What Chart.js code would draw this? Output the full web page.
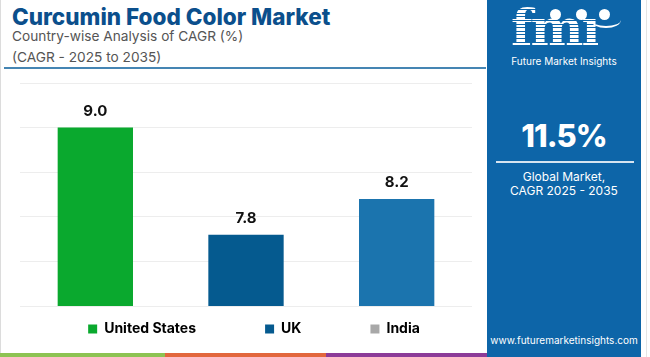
<!DOCTYPE html>
<html>
<head>
<meta charset="utf-8">
<script src="https://cdn.jsdelivr.net/npm/chart.js@4.4.1/dist/chart.umd.min.js"></script>
<style>
  html, body { margin: 0; padding: 0; background: #fff; }
  #page { position: relative; width: 650px; height: 357px; overflow: hidden; background: #fff; font-family: Inter, "Open Sans", sans-serif; }
  #leftborder { position: absolute; left: 0; top: 0; width: 1px; height: 353px; background: #dcdcdc; }
  #title { position: absolute; left: 12px; top: 3px; font-size: 22.5px; font-weight: 800; color: #0b4f8c; white-space: nowrap; }
  .sub { position: absolute; left: 12px; font-size: 13.7px; color: #555; white-space: nowrap; }
  #rule { position: absolute; left: 4px; top: 67px; width: 482px; height: 2px; background: #4585b3; }
  #chartbox { position: absolute; left: 0; top: 70px; width: 488px; height: 283px; }
  #strip { position: absolute; left: 0; top: 353px; width: 487px; height: 4px; }
  #strip div { position: absolute; top: 0; height: 4px; }
  #panel { position: absolute; left: 487px; top: 0; width: 154px; height: 357px; background: #0d65a8; color: #fff; text-align: center; }
  #logo { position: absolute; left: 22px; top: 0px; width: 110px; height: 50px; }
  #logotext { position: absolute; left: 2px; top: 3px; font-family: "DejaVu Serif", serif; font-weight: bold; font-size: 50px; line-height: 50px; letter-spacing: -2px;
     background: repeating-linear-gradient(to bottom, #fff 0px, #fff 2.6px, #0d65a8 2.6px, #0d65a8 3.6px); -webkit-background-clip: text; background-clip: text; color: transparent; }
  .dot { position: absolute; width: 11px; height: 11px; border-radius: 50%; background: #fff; top: 9px; }
  #smile { position: absolute; left: 82px; top: 12px; width: 30px; height: 14px; border-bottom: 2px solid #fff; border-radius: 0 0 50% 50%; }
  #fmitag { position: absolute; left: 0; top: 55px; width: 154px; font-size: 10px; color: #fff; }
  #big { position: absolute; left: 0; top: 116px; width: 154px; font-size: 31px; font-weight: 800; line-height: 40px; letter-spacing: -1px; }
  #prule { position: absolute; left: 9px; top: 161px; width: 138px; height: 2px; background: #d6e4f0; }
  #glob { position: absolute; left: 0; top: 170px; width: 154px; font-size: 12px; line-height: 14px; }
  #url { position: absolute; left: 0; top: 334px; width: 154px; font-size: 10px; }
  #rightedge { position: absolute; left: 646px; top: 0; width: 1px; height: 357px; background: #e4e4e4; }
</style>
</head>
<body>
<div id="page">
  <div id="leftborder"></div>
  <div id="title">Curcumin Food Color Market</div>
  <div class="sub" style="top:28px">Country-wise Analysis of CAGR (%)</div>
  <div class="sub" style="top:49px">(CAGR - 2025 to 2035)</div>
  <div id="rule"></div>
  <div id="chartbox"><canvas id="c"></canvas></div>
  <div id="strip">
    <div style="left:0;width:165px;background:#8dc353"></div>
    <div style="left:165px;width:161px;background:#e2673d"></div>
    <div style="left:326px;width:161px;background:#8c3b98"></div>
  </div>
  <div id="panel">
    <div id="logo">
      <div id="logotext">fmı</div>
      <div class="dot" style="left:41px"></div>
      <div class="dot" style="left:67px"></div>
      <div class="dot" style="left:90px"></div>
      <div id="smile"></div>
    </div>
    <div id="fmitag">Future Market Insights</div>
    <div id="big">11.5%</div>
    <div id="prule"></div>
    <div id="glob">Global Market,<br>CAGR 2025 - 2035</div>
    <div id="url">www.futuremarketinsights.com</div>
  </div>
  <div id="rightedge"></div>
</div>
<script>
const categories = ["United States", "UK", "India"];
const cagrValues = [9.0, 7.8, 8.2];
const barColors = ["#0aa92e", "#055a8f", "#1b74ae"];
const legendColors = ["#0aa92e", "#055a8f", "#a8a8a8"];
const yTicks = [7.0, 7.5, 8.0, 8.5, 9.0, 9.5];

const legendGap = "                ";

const valueLabels = {
  id: "valueLabels",
  afterDatasetsDraw(chart) {
    const ctx = chart.ctx;
    const meta = chart.getDatasetMeta(0);
    ctx.save();
    ctx.font = "bold 15px Inter, sans-serif";
    ctx.fillStyle = "#111";
    ctx.textAlign = "center";
    ctx.textBaseline = "middle";
    meta.data.forEach((bar, i) => {
      ctx.fillText(cagrValues[i].toFixed(1), bar.x, bar.y - 16);
    });
    ctx.restore();
  }
};

new Chart(document.getElementById("c"), {
  type: "bar",
  data: {
    labels: categories,
    datasets: [{
      data: cagrValues,
      backgroundColor: barColors,
      borderWidth: 0,
      categoryPercentage: 1.0,
      barPercentage: 0.5
    }]
  },
  options: {
    responsive: true,
    maintainAspectRatio: false,
    animation: false,
    layout: { padding: { left: 20, right: 0, top: 13, bottom: 7 } },
    scales: {
      x: { display: false },
      y: {
        min: yTicks[0],
        max: yTicks[yTicks.length - 1],
        afterBuildTicks: (scale) => { scale.ticks = yTicks.map(v => ({ value: v })); },
        afterFit: (scale) => { scale.width = 0; },
        ticks: { display: false },
        grid: { color: "#ededed", lineWidth: 1, drawTicks: false },
        border: { display: false }
      },
      yRight: {
        position: "right",
        min: yTicks[0],
        max: yTicks[yTicks.length - 1],
        afterFit: (scale) => { scale.width = 16; },
        ticks: { display: false },
        grid: { display: false, drawTicks: false },
        border: { display: false }
      }
    },
    plugins: {
      tooltip: { enabled: false },
      legend: {
        position: "bottom",
        labels: {
          boxWidth: 9,
          boxHeight: 9,
          padding: 16,
          color: "#111",
          font: { family: "Inter, sans-serif", size: 14, weight: "bold" },
          generateLabels: () => categories.map((name, i) => ({
            text: name + (i < categories.length - 1 ? legendGap : ""),
            fillStyle: legendColors[i],
            strokeStyle: legendColors[i],
            lineWidth: 0,
            hidden: false,
            index: i
          }))
        }
      }
    }
  },
  plugins: [valueLabels]
});
</script>
</body>
</html>
